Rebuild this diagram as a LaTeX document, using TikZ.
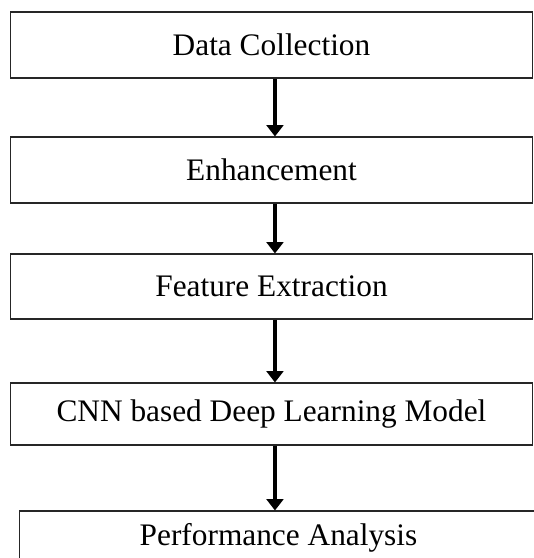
\documentclass[tikz,border=0pt]{standalone}
\usepackage{fontspec}
\setmainfont{Liberation Serif}
\usepackage{tikz}
\usetikzlibrary{arrows.meta,positioning}

\begin{document}
\begin{tikzpicture}[x=0.75pt, y=-0.75pt,
    every node/.style={font=\fontsize{23.5}{28}\selectfont},
    stagebox/.style={draw=black!85, line width=0.8pt, minimum width=392pt, inner sep=0pt},
    flowarr/.style={line width=2.5pt, -{Triangle[length=8.5pt,width=12.5pt]}}]
  \useasboundingbox (0,0) rectangle (534,558);
  \clip (0,0) rectangle (534,558);
  % stages
  \node[stagebox, minimum height=49.5pt] (collect) at (271.5,45) {Data Collection};
  \node[stagebox, minimum height=49.5pt] (enhance) at (271.5,170) {Enhancement};
  \node[stagebox, minimum height=48.75pt] (feature) at (271.5,286.5) {Feature Extraction};
  \node[stagebox, minimum height=46.5pt] (cnn) at (271.5,414) {CNN based Deep Learning Model};
  \node[stagebox, minimum width=388pt, minimum height=40.5pt] (perf) at (278.5,538) {Performance Analysis};
  % arrows
  \foreach \a/\b in {collect/enhance, enhance/feature, feature/cnn, cnn/perf}
    \draw[flowarr] ([xshift=2.6pt]\a.south) -- ([xshift=2.6pt]\a.south |- \b.north);
\end{tikzpicture}
\end{document}
